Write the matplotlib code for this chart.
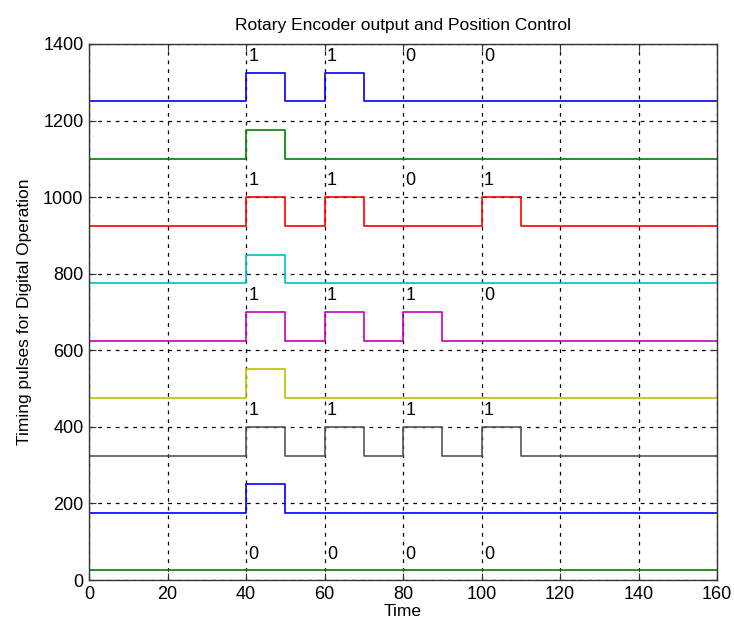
import matplotlib
matplotlib.use("Agg")
import matplotlib.pyplot as plt
import numpy as np

plt.rcParams['font.family'] = ['Liberation Sans', 'DejaVu Sans']

# time breakpoints
t_edges = [0, 40, 50, 60, 70, 80, 90, 100, 110, 160]
# pulse states for each slot: [0-40,40-50,50-60,60-70,70-80,80-90,90-100,100-110,110-160]
baselines = [1250, 1100, 925, 775, 625, 475, 325, 175, 25]
pulse_height = 75
states = [
    [0, 1, 0, 1, 0, 0, 0, 0, 0],
    [0, 1, 0, 0, 0, 0, 0, 0, 0],
    [0, 1, 0, 1, 0, 0, 0, 1, 0],
    [0, 1, 0, 0, 0, 0, 0, 0, 0],
    [0, 1, 0, 1, 0, 1, 0, 0, 0],
    [0, 1, 0, 0, 0, 0, 0, 0, 0],
    [0, 1, 0, 1, 0, 1, 0, 1, 0],
    [0, 1, 0, 0, 0, 0, 0, 0, 0],
    [0, 0, 0, 0, 0, 0, 0, 0, 0],
]
colors = ['#0000ff', '#008000', '#ff0000', '#00bfbf', '#bf00bf',
          '#bfbf00', '#555555', '#0000ff', '#008000']

label_x = [40, 60, 80, 100]
bit_labels = {
    0: (1345, ['1', '1', '0', '0']),
    2: (1020, ['1', '1', '0', '1']),
    4: (720, ['1', '1', '1', '0']),
    6: (420, ['1', '1', '1', '1']),
    8: (45, ['0', '0', '0', '0']),
}

fig = plt.figure(figsize=(7.34, 6.33), dpi=100)
ax = fig.add_axes([0.1213, 0.0837, 0.8557, 0.8468])

for i, (b, st, c) in enumerate(zip(baselines, states, colors)):
    ys = [b + pulse_height * s for s in st]
    yy = ys + [ys[-1]]
    ax.step(t_edges, yy, where='post', color=c, lw=1.2)

for i, (ly, labs) in bit_labels.items():
    for x, s in zip(label_x, labs):
        ax.text(x + 0.6, ly, s, fontsize=13, ha='left', va='bottom', color='black')

ax.set_xlim(0, 160)
ax.set_ylim(0, 1400)
ax.set_xticks(np.arange(0, 161, 20))
ax.set_yticks(np.arange(0, 1401, 200))
ax.grid(True, color='black', linestyle=(0, (3, 4)), lw=0.9)
ax.tick_params(direction='in', top=True, right=True, labelsize=13, length=5,
               color='#333333', pad=4)
for sp in ax.spines.values():
    sp.set_color('#333333')
    sp.set_linewidth(1.0)

ax.set_title('Rotary Encoder output and Position Control', fontsize=12.5, pad=10)
ax.set_xlabel('Time', fontsize=12.5, labelpad=1)
ax.set_ylabel('Timing pulses for Digital Operation', fontsize=12.5, labelpad=8)

fig.savefig('out.png', dpi=100)
